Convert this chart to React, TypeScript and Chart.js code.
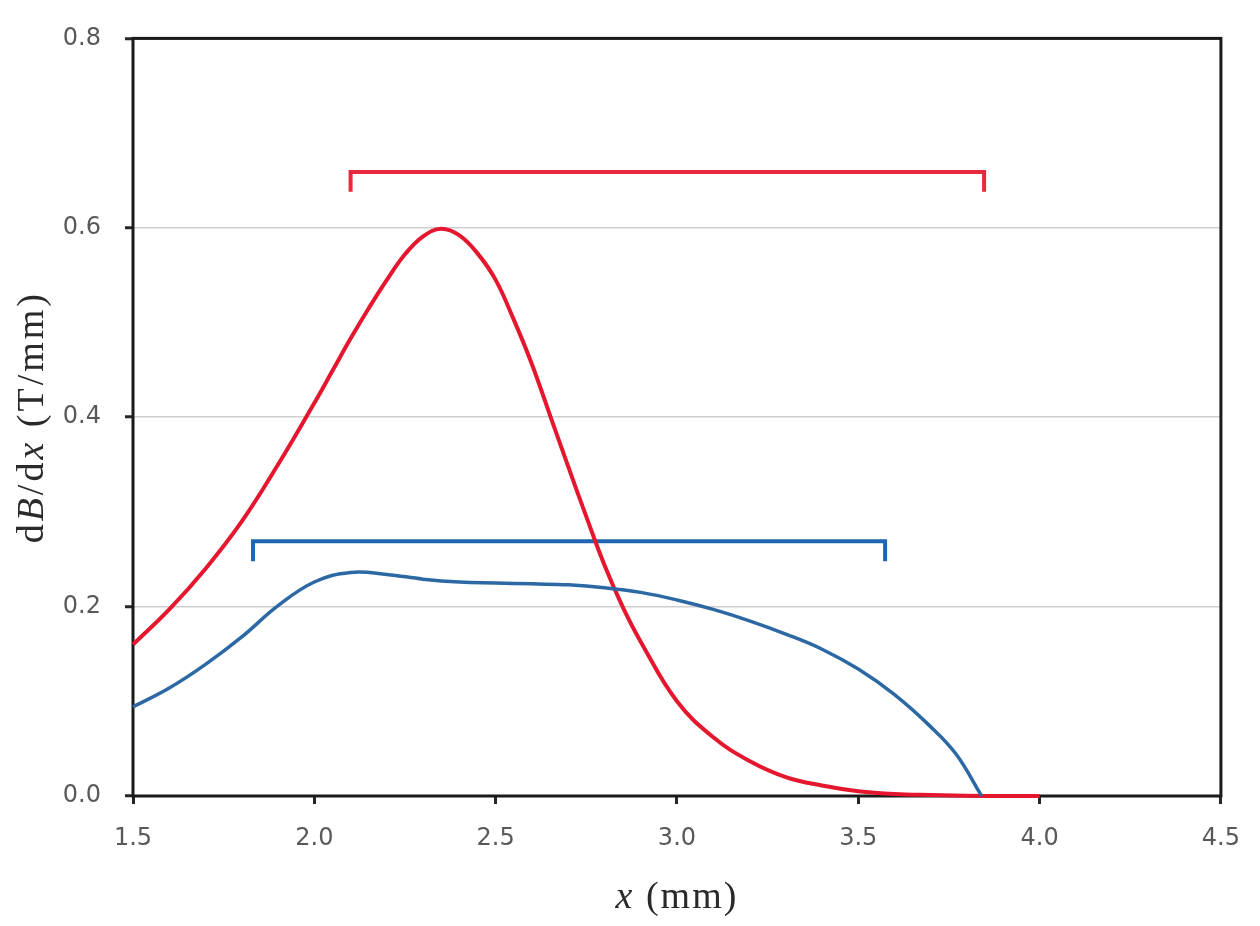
import React, { useEffect, useRef } from "react";
import { Chart, registerables } from "chart.js";

Chart.register(...registerables);

const redX = [1.5, 1.6, 1.7, 1.8, 1.9, 2.0, 2.05, 2.1, 2.15, 2.2, 2.25, 2.3, 2.35, 2.4, 2.45, 2.5, 2.55, 2.6, 2.65, 2.7, 2.75, 2.8, 2.85, 2.9, 3.0, 3.1, 3.2, 3.3, 3.4, 3.5, 3.6, 3.7, 3.85, 4.0];
const redY = [0.160, 0.197, 0.240, 0.290, 0.350, 0.415, 0.449, 0.483, 0.515, 0.545, 0.572, 0.591, 0.599, 0.592, 0.573, 0.545, 0.503, 0.456, 0.402, 0.348, 0.295, 0.244, 0.200, 0.163, 0.100, 0.062, 0.037, 0.020, 0.011, 0.005, 0.002, 0.001, 0.0, 0.0];

const blueX = [1.5, 1.6, 1.7, 1.8, 1.9, 2.0, 2.1, 2.2, 2.3, 2.4, 2.5, 2.6, 2.7, 2.8, 2.9, 3.0, 3.1, 3.2, 3.3, 3.4, 3.5, 3.6, 3.7, 3.77, 3.84];
const blueY = [0.094, 0.114, 0.139, 0.168, 0.201, 0.226, 0.236, 0.234, 0.229, 0.226, 0.225, 0.224, 0.223, 0.220, 0.215, 0.207, 0.197, 0.185, 0.171, 0.155, 0.134, 0.107, 0.073, 0.044, 0.0];

const redBracketX = [2.1, 2.1, 3.847, 3.847];
const redBracketY = [0.638, 0.659, 0.659, 0.638];
const blueBracketX = [1.831, 1.831, 3.574, 3.574];
const blueBracketY = [0.248, 0.269, 0.269, 0.248];

const xTicks = [1.5, 2.0, 2.5, 3.0, 3.5, 4.0, 4.5];
const yTicks = [0.0, 0.2, 0.4, 0.6, 0.8];

const pts = (xs: number[], ys: number[]) => xs.map((x, i) => ({ x, y: ys[i] }));

const framePlugin = {
  id: "frame",
  beforeDatasetsDraw(chart: any) {
    const { ctx, chartArea } = chart;
    ctx.save();
    ctx.strokeStyle = "#1a1a1a";
    ctx.lineWidth = 3;
    ctx.strokeRect(chartArea.left, chartArea.top, chartArea.right - chartArea.left, chartArea.bottom - chartArea.top);
    ctx.restore();
  },
  afterDraw(chart: any) {
    const { ctx, chartArea } = chart;
    ctx.save();
    ctx.fillStyle = "#2a2a2a";
    ctx.textBaseline = "middle";
    (ctx as any).letterSpacing = "2px";
    const xParts: [string, string][] = [
      ["x", "italic 38px 'Liberation Serif'"],
      [" (mm)", "38px 'Liberation Serif'"],
    ];
    let total = 0;
    for (const [t, f] of xParts) { ctx.font = f; total += ctx.measureText(t).width; }
    let cx = (chartArea.left + chartArea.right) / 2 - total / 2;
    for (const [t, f] of xParts) { ctx.font = f; ctx.textAlign = "left"; ctx.fillText(t, cx, 898); cx += ctx.measureText(t).width; }
    (ctx as any).letterSpacing = "3px";
    const yParts: [string, string][] = [
      ["d", "38px 'Liberation Serif'"],
      ["B", "italic 38px 'Liberation Serif'"],
      ["/d", "38px 'Liberation Serif'"],
      ["x", "italic 38px 'Liberation Serif'"],
      [" (T/mm)", "38px 'Liberation Serif'"],
    ];
    total = 0;
    for (const [t, f] of yParts) { ctx.font = f; total += ctx.measureText(t).width; }
    ctx.translate(33, (chartArea.top + chartArea.bottom) / 2);
    ctx.rotate(-Math.PI / 2);
    let px = -total / 2;
    for (const [t, f] of yParts) { ctx.font = f; ctx.textAlign = "left"; ctx.fillText(t, px, 0); px += ctx.measureText(t).width; }
    ctx.restore();
  },
};

export default function App() {
  const ref = useRef<HTMLCanvasElement | null>(null);
  useEffect(() => {
    document.body.style.margin = "0";
    const canvas = ref.current!;
    const chart = new Chart(canvas, {
      type: "scatter",
      data: {
        datasets: [
          { data: pts(blueX, blueY), showLine: true, borderColor: "#2c68a4", borderWidth: 3.5, pointRadius: 0, tension: 0.4, clip: false } as any,
          { data: pts(redX, redY), showLine: true, borderColor: "#e5172f", borderWidth: 4, pointRadius: 0, tension: 0.4, clip: false } as any,
          { data: pts(redBracketX, redBracketY), showLine: true, borderColor: "#e8283c", borderWidth: 4, pointRadius: 0, tension: 0 } as any,
          { data: pts(blueBracketX, blueBracketY), showLine: true, borderColor: "#1f66b0", borderWidth: 4, pointRadius: 0, tension: 0 } as any,
        ],
      },
      options: {
        responsive: false,
        animation: false,
        devicePixelRatio: 1,
        layout: { padding: { top: 32, right: 36, left: 0, bottom: 0 } },
        plugins: { legend: { display: false }, tooltip: { enabled: false } },
        scales: {
          x: {
            type: "linear",
            min: 1.5,
            max: 4.5,
            afterFit: (s: any) => { s.height = 130; },
            afterBuildTicks: (s: any) => { s.ticks = xTicks.map((v) => ({ value: v })); },
            border: { display: false },
            grid: { drawOnChartArea: false, drawTicks: true, tickLength: 8, tickColor: "#262626", tickWidth: 3 },
            ticks: { padding: 20, color: "#595959", font: { family: "'DejaVu Sans'", size: 24 }, callback: (v: any) => Number(v).toFixed(1), maxRotation: 0 },
          },
          y: {
            type: "linear",
            min: 0,
            max: 0.8,
            afterFit: (s: any) => { s.width = 133; },
            afterBuildTicks: (s: any) => { s.ticks = yTicks.map((v) => ({ value: v })); },
            border: { display: false },
            grid: { color: "#cfcfcf", lineWidth: 1.5, drawTicks: true, tickLength: 8, tickColor: "#262626", tickWidth: 3 },
            ticks: { padding: 24, color: "#595959", font: { family: "'DejaVu Sans'", size: 24 }, callback: (v: any) => Number(v).toFixed(1) },
          },
        },
      },
      plugins: [framePlugin],
    });
    return () => chart.destroy();
  }, []);
  return <canvas ref={ref} width={1260} height={926} style={{ display: "block", width: 1260, height: 926 }} />;
}
